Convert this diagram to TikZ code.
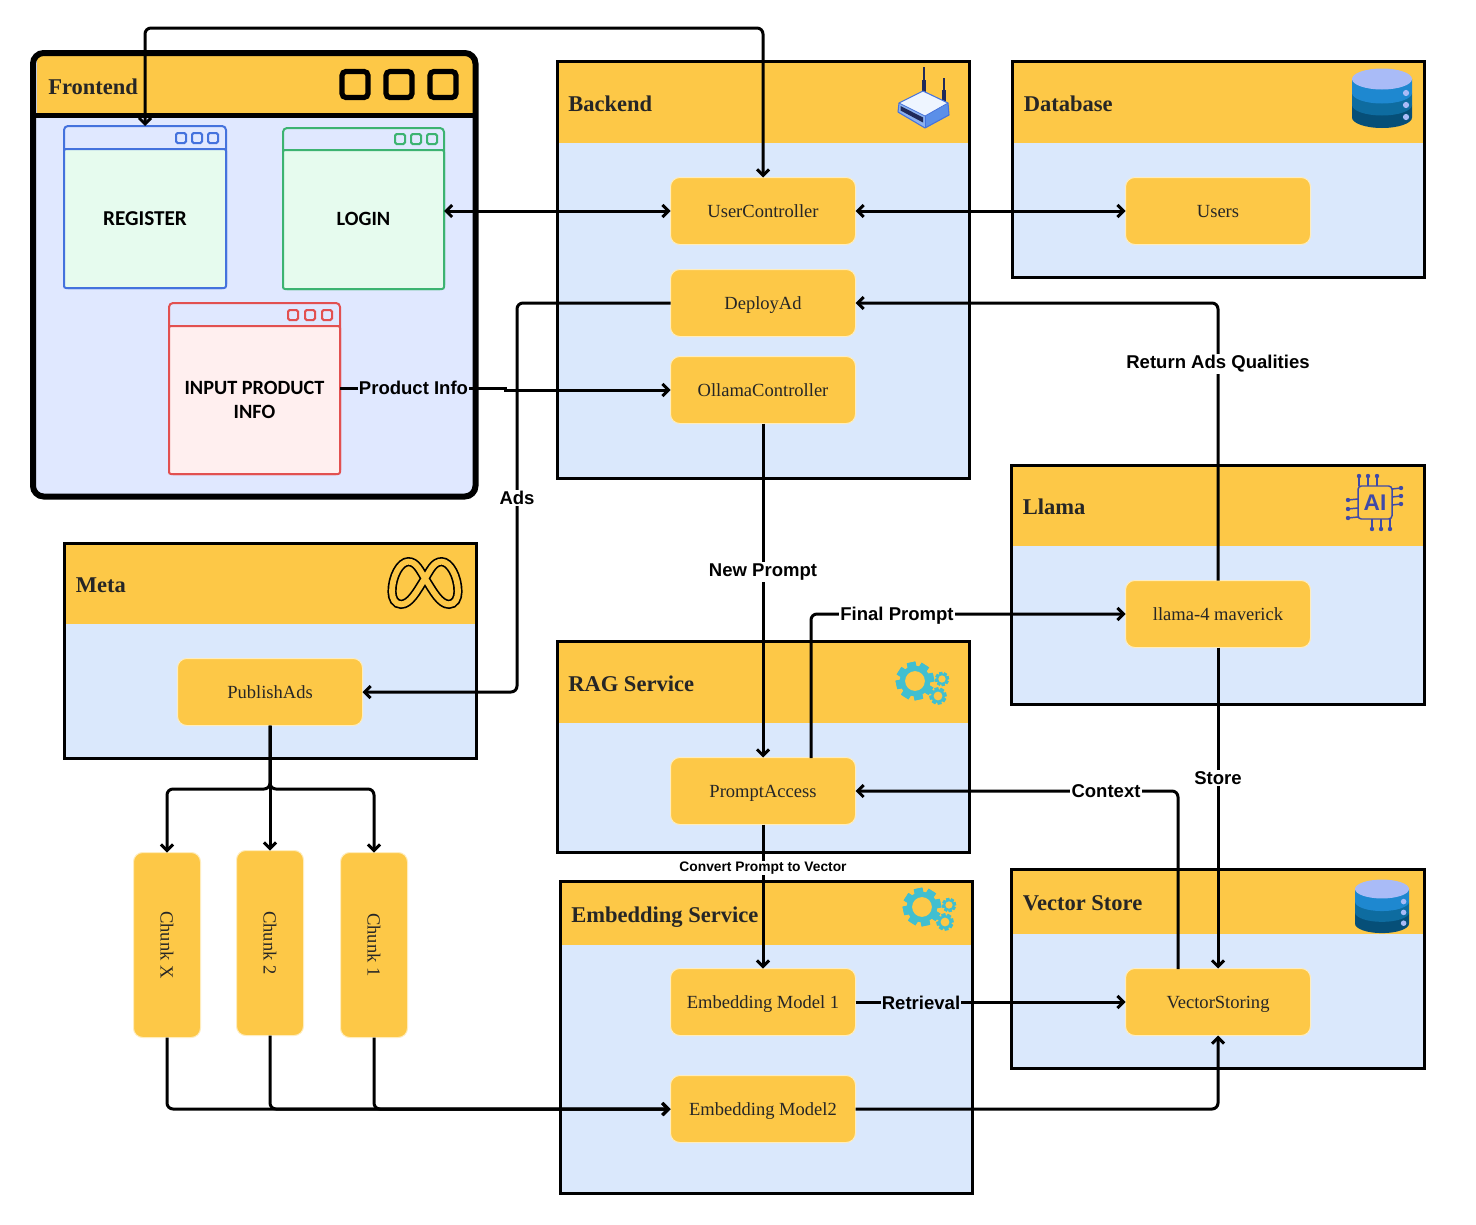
\documentclass[tikz,border=0pt]{standalone}
\usepackage{fontspec}
\usepackage{graphicx}
\setmainfont{Liberation Serif}
\newfontfamily\lblfont{Liberation Sans}
\newfontfamily\winfont{Carlito}
\usetikzlibrary{arrows.meta}
\definecolor{hdr}{HTML}{FDC847}
\definecolor{bodyblue}{HTML}{DAE8FC}
\definecolor{frontbody}{HTML}{E0E8FF}
\definecolor{boxedge}{HTML}{FFEDBD}
\definecolor{txt}{HTML}{262626}
\definecolor{winblue}{HTML}{4472DD}
\definecolor{wingreen}{HTML}{3CB371}
\definecolor{winred}{HTML}{E25050}
\definecolor{mint}{HTML}{E6FBEE}
\definecolor{rose}{HTML}{FFEFEF}
\definecolor{cog}{HTML}{41BFD0}
\definecolor{dbtop}{HTML}{A9BBF7}
\definecolor{dbone}{HTML}{1E88D0}
\definecolor{dbtwo}{HTML}{0E6CA0}
\definecolor{dbthree}{HTML}{064F78}
\definecolor{chipc}{HTML}{3F4AA8}
\definecolor{routertop}{HTML}{EEF5FF}
\definecolor{routerside}{HTML}{5B8FE8}
\definecolor{routerdark}{HTML}{1F2A5A}
\tikzset{
  x=0.75pt,y=-0.75pt,
  >={Straight Barb[length=4.5pt,width=9pt]},
  panelbody/.style={draw=black,line width=2.25pt,fill=bodyblue,anchor=north west,inner sep=0pt,outer sep=0pt},
  paneltitle/.style={anchor=west,inner sep=0pt,font=\fontsize{16.9}{20}\selectfont\bfseries,text=txt,text height=17pt,text depth=2.8pt},
  innerbox/.style={draw=boxedge,line width=0.75pt,fill=hdr,rounded corners=7pt,inner sep=0pt,outer sep=0pt,
    font=\fontsize{13.9}{16}\selectfont,text=txt,align=center},
  fixedline/.style={text height=12.2pt,text depth=2.5pt},
  conn/.style={draw=black,line width=2.25pt,rounded corners=4.5pt},
  lbl/.style={fill=white,inner sep=1pt,font=\lblfont\fontsize{13.9}{16}\selectfont\bfseries,text=black,align=center},
  winframe/.style={line width=1.5pt,rounded corners=3pt,anchor=north west,inner sep=0pt,outer sep=0pt},
  winbody/.style={line width=1.5pt,rounded corners=1.5pt,anchor=north west,inner sep=0pt,outer sep=0pt,align=center,
    font=\winfont\fontsize{15.2}{17.5}\selectfont\bfseries,text=black},
  winbtn/.style={line width=1.5pt,rounded corners=1.2pt,fill=none},
  frontbtn/.style={draw=black,line width=3.9pt,rounded corners=3pt,fill=none},
}
% name, x1, y1, x2, y2, header bottom, title
\newcommand{\panelbox}[7]{%
  \node[panelbody,minimum width={(#4-#2)*0.75pt},minimum height={(#5-#3)*0.75pt}] (#1) at (#2,#3) {};
  \fill[hdr] ({#2+1.5},{#3+1.5}) rectangle ({#4-1.5},#6);
  \node[paneltitle] (#1-title) at ({#2+11},{(#3+#6)/2}) {#7};
}
% name, x, y, w, h, label
\newcommand{\ibox}[6]{%
  \node[innerbox,fixedline,minimum width={(#4+1)*0.75pt},minimum height={(#5+1)*0.75pt}] (#1) at ({#2+#4/2},{#3+#5/2}) {#6};
}
\newcommand{\uprightbox}[6]{%
  \node[innerbox,minimum width={(#4+1)*0.75pt},minimum height={(#5+1)*0.75pt}] (#1) at ({#2+#4/2},{#3+#5/2}) {\rotatebox{-90}{#6}};
}
% name, x1, y1, x2, y2, bar y, colour, body fill, label
\newcommand{\winbox}[9]{%
  \node[winframe,draw=#7,minimum width={(#4-#2)*0.75pt},minimum height={(#5-#3)*0.75pt}] (#1) at (#2,#3) {};
  \node[winbody,draw=#7,fill=#8,minimum width={(#4-#2)*0.75pt},minimum height={(#5-#6)*0.75pt}] (#1-body) at (#2,#6) {#9};
}
\newcommand{\winbtns}[5]{%
  \foreach \bx in {#3,#4,#5} {\draw[winbtn,draw=#1] ({\bx-5},{#2-5}) rectangle ({\bx+5},{#2+5});}
}
\newcommand{\cogwheel}[3]{%
  \begin{scope}[shift={(#1,#2)}]
    \fill[cog] (0,0) circle[radius={#3*0.8}];
    \foreach \a in {0,45,...,315} {
      \fill[cog,rotate=\a+12] ({-#3*0.23},{-#3}) rectangle ({#3*0.23},{#3});
    }
    \fill[hdr] (0,0) circle[radius={#3*0.52}];
  \end{scope}
}
\newcommand{\gearset}[2]{%
  \begin{scope}[shift={(#1,#2)}]
    \cogwheel{0}{0}{19}
    \cogwheel{27}{-2}{7}
    \cogwheel{23}{15}{8.5}
  \end{scope}
}
\newcommand{\dbicon}[3]{%
  \begin{scope}[shift={(#1,#2)},scale=#3]
    \fill[dbthree] (-30,26) -- (-30,38.5) arc[start angle=180,end angle=0,x radius=30,y radius=10.5] -- (30,26) -- cycle;
    \fill[dbtwo] (-30,14) -- (-30,26) arc[start angle=180,end angle=0,x radius=30,y radius=10.5] -- (30,14) -- cycle;
    \fill[dbone] (-30,0) -- (-30,14) arc[start angle=180,end angle=0,x radius=30,y radius=10.5] -- (30,0) -- cycle;
    \fill[dbtop] (0,0) ellipse[x radius=30,y radius=10.5];
    \foreach \dy in {14,26,38} {\fill[dbtop] (24,\dy) circle[radius=3.1];}
  \end{scope}
}
\begin{document}
\begin{tikzpicture}
\path[use as bounding box,fill=white] (0,0) rectangle (1476,1224);

% ---------- Frontend
\node[draw=none,fill=frontbody,rounded corners=8pt,anchor=north west,inner sep=0pt,outer sep=0pt,
  minimum width={442*0.75pt},minimum height={443*0.75pt}] (Frontend) at (33,53) {};
\fill[hdr] (37,56) rectangle (473,115);
\draw[black,line width=4pt] (33,115.5) -- (475.5,115.5);
\draw[black,line width=4.5pt,rounded corners=8pt] (33,53) rectangle (475.5,496.5);
\node[paneltitle] (Frontend-title) at (48,85) {Frontend};
\foreach \bx in {355,399,443} {\draw[frontbtn] ({\bx-13},{84.5-13}) rectangle ({\bx+13},{84.5+13});}

\winbox{Register}{64}{126}{226}{288}{149}{winblue}{mint}{\raisebox{-1.7pt}{\fontsize{15.9}{17.5}\selectfont REGISTER}}
\winbtns{winblue}{138}{181}{197}{213}
\winbox{Login}{283}{128}{444}{289}{150}{wingreen}{mint}{\raisebox{0.7pt}{LOGIN}}
\winbtns{wingreen}{139}{400}{416}{432}
\winbox{InputInfo}{169}{303}{340}{474}{326}{winred}{rose}{INPUT PRODUCT\\INFO}
\winbtns{winred}{315}{293}{310}{327}

% ---------- Panels
\panelbox{Backend}{557}{61}{969}{478}{143}{Backend}
\panelbox{Database}{1012.5}{61}{1424}{277}{143}{Database}
\panelbox{Llama}{1011.5}{465}{1424}{704}{546}{Llama}
\panelbox{Meta}{64.5}{543}{476}{758}{624}{Meta}
\panelbox{Rag}{557}{641}{969}{852}{723}{RAG Service}
\panelbox{Embedding}{560}{881}{972}{1193}{945}{Embedding Service}
\panelbox{Vector}{1011.5}{869}{1424}{1068}{934}{Vector Store}

% ---------- Icons
% router
\draw[routerdark,line width=1.6pt] (924,67) -- (924,82);
\draw[routerdark,line width=2.6pt] (924,80) -- (924,93);
\draw[routerdark,line width=1.6pt] (944,78) -- (944,92);
\draw[routerdark,line width=2.6pt] (944,90) -- (944,106);
\fill[routerside] (925,116) -- (948,103) -- (949,115) -- (925,128) -- cycle;
\fill[routerside!70!white] (899,103) -- (925,116) -- (925,128) -- (898,112) -- cycle;
\fill[routerdark] (900.5,106) -- (923,117.5) -- (923,122.5) -- (900.5,110.5) -- cycle;
\fill[routertop] (923,91) -- (948,103) -- (925,116) -- (899,103) -- cycle;
\draw[winblue,line width=0.8pt,line join=round] (923,91) -- (948,103) -- (949,115) -- (925,128) -- (898,112) -- (899,103) -- cycle;
\draw[winblue,line width=0.6pt] (899,103) -- (925,116) -- (948,103);
\draw[winblue,line width=0.6pt] (925,116) -- (925,128);
% databases
\dbicon{1382}{79}{1}
\dbicon{1382}{889}{0.9}
% chip
\begin{scope}[chipc]
  \foreach \px in {1359,1368,1377} {\draw[chipc,line width=1.1pt] (\px,486) -- (\px,476); \fill (\px,476) circle[radius=2.2];}
  \foreach \px in {1372,1381,1390} {\draw[chipc,line width=1.1pt] (\px,519) -- (\px,529); \fill (\px,529) circle[radius=2.2];}
  \foreach \py in {499,508,517} {\draw[chipc,line width=1.1pt] (1358,\py) -- (1348,\py+1); \fill (1348,\py+1) circle[radius=2.2];}
  \foreach \py in {489,497,505} {\draw[chipc,line width=1.1pt] (1392,\py) -- (1401,\py-1); \fill (1401,\py-1) circle[radius=2.2];}
\end{scope}
\node[draw=chipc,line width=1.1pt,rounded corners=2.5pt,minimum width={34*0.75pt},minimum height={33*0.75pt},inner sep=0pt,
  text=chipc,font=\lblfont\fontsize{17}{17}\selectfont\bfseries] (ChipIcon) at (1375,502.5) {AI};
% meta
\begin{scope}[shift={(375,545)},scale=0.3333]
  \def\metapath{(150,100) .. controls (125,140) and (105,178) .. (78,178) .. controls (60,178) and (51,160) .. (51,140) .. controls (51,95) and (75,50) .. (100,50) .. controls (125,50) and (135,78) .. (150,100) .. controls (175,140) and (195,178) .. (222,178) .. controls (240,178) and (249,160) .. (249,140) .. controls (249,95) and (225,50) .. (200,50) .. controls (175,50) and (165,78) .. (150,100) -- cycle}
  \draw[black,line width=6.9pt] \metapath;
  \draw[hdr,line width=4.4pt] \metapath;
\end{scope}
% gears
\gearset{915}{681}
\gearset{922}{907}

% ---------- Inner boxes
\ibox{UserController}{671}{178}{184}{66}{UserController}
\ibox{DeployAd}{671}{270}{184}{66}{DeployAd}
\ibox{Ollama}{671}{357}{184}{66}{OllamaController}
\ibox{PromptAccess}{671}{758}{184}{66}{PromptAccess}
\ibox{ModelOne}{671}{969}{184}{66}{Embedding Model 1}
\ibox{ModelTwo}{671}{1076}{184}{66}{Embedding Model2}
\ibox{Users}{1126}{178}{184}{66}{Users}
\ibox{LlamaModel}{1126}{581}{184}{66}{llama-4 maverick}
\ibox{VectorStoring}{1126}{969}{184}{66}{VectorStoring}
\ibox{PublishAds}{178}{659}{184}{66}{PublishAds}
\uprightbox{ChunkX}{134}{853}{66}{184}{Chunk X}
\uprightbox{ChunkTwo}{237}{851}{66}{184}{Chunk 2}
\uprightbox{ChunkOne}{341}{853}{66}{184}{Chunk 1}

% ---------- Connectors
\coordinate (paUp) at (811,758);
\coordinate (vsUp) at (1178,969);
\draw[conn,<->] (UserController.north) -- (763,28) -- (145,28) -- (Register.north);
\draw[conn,<->] (Login.east |- UserController.west) -- (UserController.west);
\draw[conn,<->] (UserController.east) -- (Users.west);
\draw[conn,->] (DeployAd.west) -- (517,303) -- (517,692) -- (PublishAds.east);
\draw[conn,->,rounded corners=0pt] (InputInfo.east) -- (505,388.5) -- (505,390) -- (Ollama.west);
\draw[conn,->] (Ollama.south) -- (PromptAccess.north);
\draw[conn,->] (paUp) -- (811,614) -- (LlamaModel.west);
\draw[conn,->] (LlamaModel.north) -- (1218,303) -- (DeployAd.east);
\draw[conn,->] (LlamaModel.south) -- (VectorStoring.north);
\draw[conn,->] (vsUp) -- (1178,791) -- (PromptAccess.east);
\draw[conn,->] (PromptAccess.south) -- (ModelOne.north);
\draw[conn,->] (ModelOne.east) -- (VectorStoring.west);
\draw[conn,->] (ModelTwo.east) -- (1218,1109) -- (VectorStoring.south);
\draw[conn,->] (ChunkX.south) -- (167,1109) -- (ModelTwo.west);
\draw[conn,->] (ChunkTwo.south) -- (270,1109) -- (ModelTwo.west);
\draw[conn,->] (ChunkOne.south) -- (374,1109) -- (ModelTwo.west);
\draw[conn,->] (PublishAds.south) -- (270,789) -- (167,789) -- (ChunkX.north);
\draw[conn,->] (PublishAds.south) -- (ChunkTwo.north);
\draw[conn,->] (PublishAds.south) -- (270,789) -- (374,789) -- (ChunkOne.north);

% ---------- Labels
\node[lbl,fill=frontbody] (lblProduct) at (413.5,388) {Product Info};
\node[lbl] (lblAds) at (517,498) {Ads};
\node[lbl] (lblReturn) at (1218,364) {Return Ads Qualities};
\node[lbl] (lblNew) at (763,572) {New Prompt};
\node[lbl] (lblFinal) at (897,616) {Final Prompt};
\node[lbl] (lblContext) at (1106,791) {Context};
\node[lbl] (lblStore) at (1218,778) {Store};
\node[lbl,fill=bodyblue] (lblRetrieval) at (921,1003) {Retrieval};
\node[lbl,inner sep=0.5pt,font=\lblfont\fontsize{10.35}{12}\selectfont\bfseries] (lblConvert) at (763,868) {Convert Prompt to Vector};
\end{tikzpicture}
\end{document}
